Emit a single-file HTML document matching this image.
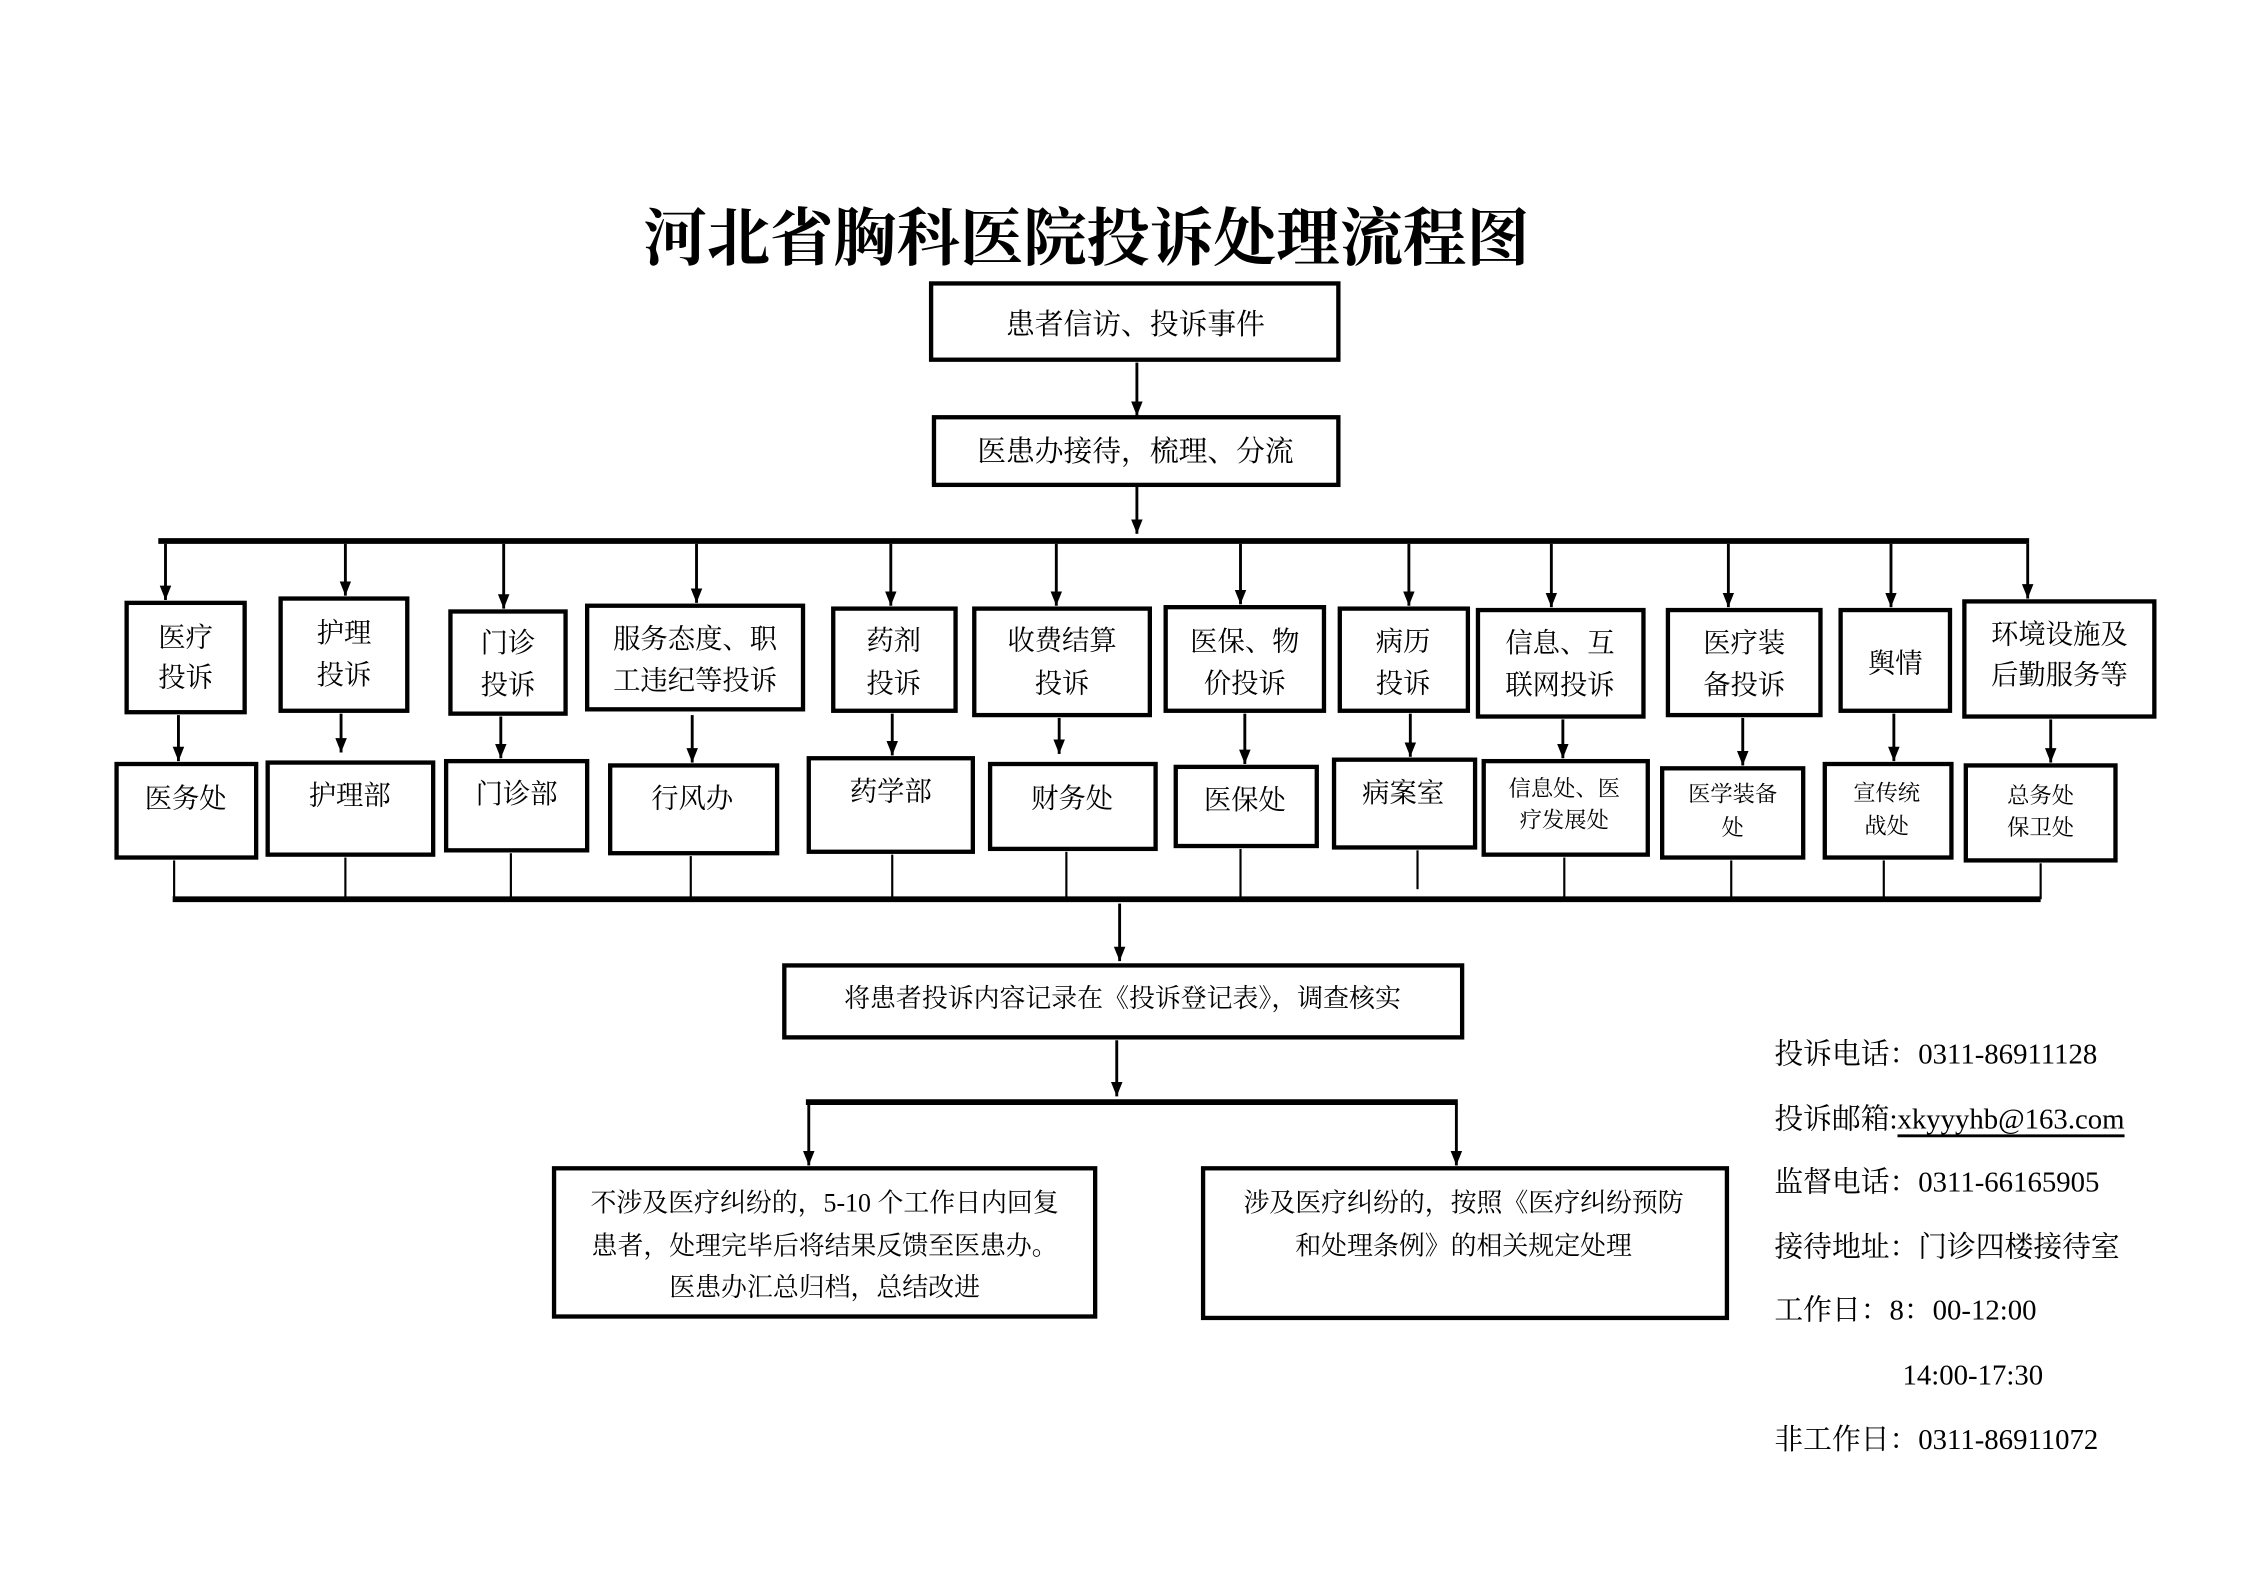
<!DOCTYPE html>
<html><head><meta charset="utf-8"><style>
html,body{margin:0;padding:0;background:#fff;}
svg{display:block;}
text{font-family:"Liberation Serif","Noto Serif CJK SC",serif;fill:#000;}
</style></head><body>
<svg width="2245" height="1587" viewBox="0 0 1560 1103" preserveAspectRatio="none" xmlns="http://www.w3.org/2000/svg">
<defs>
<marker id="d" viewBox="0 0 10 10" refX="10" refY="5" markerWidth="10" markerHeight="10" markerUnits="userSpaceOnUse" orient="auto"><path d="M0,1 L10,5 L0,9 Z" fill="#000"/></marker></defs>
<text x="755" y="166" font-size="44" font-weight="bold" text-anchor="middle" dominant-baseline="central" font-family="'Noto Serif CJK SC',serif">河北省胸科医院投诉处理流程图</text>
<g fill="none" stroke="#000" stroke-width="3">
<rect x="647" y="197" width="283" height="53"/>
<rect x="649" y="290" width="281" height="47"/>
<rect x="88" y="419" width="82" height="76"/>
<rect x="195" y="416" width="88" height="78"/>
<rect x="313" y="425" width="80" height="71"/>
<rect x="408" y="421" width="150" height="72"/>
<rect x="579" y="423" width="85" height="71"/>
<rect x="677" y="423" width="122" height="74"/>
<rect x="810" y="422" width="110" height="72"/>
<rect x="931" y="423" width="89" height="71"/>
<rect x="1027" y="424" width="115" height="74"/>
<rect x="1159" y="424" width="106" height="73"/>
<rect x="1279" y="424" width="76" height="70"/>
<rect x="1365" y="418" width="132" height="80"/>
<rect x="81" y="531" width="97" height="65"/>
<rect x="186" y="530" width="115" height="64"/>
<rect x="310" y="529" width="98" height="62"/>
<rect x="424" y="532" width="116" height="61"/>
<rect x="562" y="527" width="114" height="65"/>
<rect x="688" y="531" width="115" height="59"/>
<rect x="817" y="533" width="98" height="55"/>
<rect x="927" y="528" width="98" height="61"/>
<rect x="1031" y="529" width="114" height="65"/>
<rect x="1155" y="534" width="98" height="62"/>
<rect x="1268" y="531" width="88" height="65"/>
<rect x="1366" y="532" width="104" height="66"/>
<rect x="545" y="671" width="471" height="50"/>
<rect x="385" y="812" width="376" height="103"/>
<rect x="836" y="812" width="364" height="104"/>
<line x1="110" y1="376" x2="1410" y2="376" stroke-width="4"/>
<line x1="120" y1="625" x2="1418" y2="625" stroke-width="4"/>
<line x1="560" y1="766" x2="1013" y2="766" stroke-width="4"/>
</g>
<g stroke="#000" stroke-width="2" marker-end="url(#d)">
<line x1="790" y1="252" x2="790" y2="289"/>
<line x1="790" y1="338" x2="790" y2="371"/>
<line x1="115" y1="378" x2="115" y2="417"/>
<line x1="240" y1="378" x2="240" y2="414"/>
<line x1="350" y1="378" x2="350" y2="423"/>
<line x1="484" y1="378" x2="484" y2="419"/>
<line x1="619" y1="378" x2="619" y2="421"/>
<line x1="734" y1="378" x2="734" y2="421"/>
<line x1="862" y1="378" x2="862" y2="420"/>
<line x1="979" y1="378" x2="979" y2="421"/>
<line x1="1078" y1="378" x2="1078" y2="422"/>
<line x1="1201" y1="378" x2="1201" y2="422"/>
<line x1="1314" y1="378" x2="1314" y2="422"/>
<line x1="1409" y1="378" x2="1409" y2="416"/>
<line x1="124" y1="497" x2="124" y2="529"/>
<line x1="237" y1="496" x2="237" y2="523"/>
<line x1="348" y1="498" x2="348" y2="527"/>
<line x1="481" y1="497" x2="481" y2="530"/>
<line x1="620" y1="496" x2="620" y2="525"/>
<line x1="736" y1="499" x2="736" y2="524"/>
<line x1="865" y1="496" x2="865" y2="531"/>
<line x1="980" y1="496" x2="980" y2="526"/>
<line x1="1086" y1="500" x2="1086" y2="527"/>
<line x1="1211" y1="499" x2="1211" y2="532"/>
<line x1="1316" y1="496" x2="1316" y2="529"/>
<line x1="1425" y1="500" x2="1425" y2="530"/>
<line x1="778" y1="628" x2="778" y2="668"/>
<line x1="776" y1="723" x2="776" y2="762"/>
<line x1="562" y1="767" x2="562" y2="810"/>
<line x1="1012" y1="767" x2="1012" y2="810"/>
</g>
<g stroke="#000" stroke-width="1.5">
<line x1="121" y1="598" x2="121" y2="625"/><line x1="240" y1="596" x2="240" y2="625"/>
<line x1="355" y1="593" x2="355" y2="625"/><line x1="480" y1="595" x2="480" y2="625"/>
<line x1="620" y1="594" x2="620" y2="625"/><line x1="741" y1="592" x2="741" y2="625"/>
<line x1="862" y1="590" x2="862" y2="625"/><line x1="985" y1="591" x2="985" y2="618"/>
<line x1="1087" y1="596" x2="1087" y2="625"/><line x1="1203" y1="598" x2="1203" y2="625"/>
<line x1="1309" y1="598" x2="1309" y2="625"/><line x1="1418" y1="600" x2="1418" y2="625"/>
</g>
<g font-size="20" text-anchor="middle" dominant-baseline="central">
<text x="789" y="226">患者信访、投诉事件</text>
<text x="789" y="314">医患办接待，梳理、分流</text>
</g>
<g font-size="19" text-anchor="middle" dominant-baseline="central">
<text x="129" y="443">医疗</text><text x="129" y="471">投诉</text>
<text x="239" y="440">护理</text><text x="239" y="469">投诉</text>
<text x="353" y="447">门诊</text><text x="353" y="476">投诉</text>
<text x="483" y="444">服务态度、职</text><text x="483" y="473">工违纪等投诉</text>
<text x="621" y="445">药剂</text><text x="621" y="475">投诉</text>
<text x="738" y="445">收费结算</text><text x="738" y="475">投诉</text>
<text x="865" y="446">医保、物</text><text x="865" y="475">价投诉</text>
<text x="975" y="446">病历</text><text x="975" y="475">投诉</text>
<text x="1084" y="447">信息、互</text><text x="1084" y="476">联网投诉</text>
<text x="1212" y="447">医疗装</text><text x="1212" y="476">备投诉</text>
<text x="1317" y="461">舆情</text>
<text x="1431" y="441">环境设施及</text><text x="1431" y="469">后勤服务等</text>
<text x="129" y="555">医务处</text><text x="243" y="553">护理部</text><text x="359" y="552">门诊部</text>
<text x="481" y="555">行风办</text><text x="619" y="550">药学部</text><text x="745" y="555">财务处</text>
<text x="865" y="556">医保处</text><text x="975" y="551">病案室</text>
</g>
<g font-size="15.5" text-anchor="middle" dominant-baseline="central">
<text x="1087" y="548">信息处、医</text><text x="1087" y="570">疗发展处</text>
<text x="1204" y="552">医学装备</text><text x="1204" y="575">处</text>
<text x="1311" y="551">宣传统</text><text x="1311" y="574">战处</text>
<text x="1418" y="553">总务处</text><text x="1418" y="575">保卫处</text>
</g>
<g font-size="18" text-anchor="middle" dominant-baseline="central">
<text x="780" y="694">将患者投诉内容记录在《投诉登记表》，调查核实</text>
<text x="573" y="836">不涉及医疗纠纷的，5-10 个工作日内回复</text>
<text x="573" y="866">患者，处理完毕后将结果反馈至医患办。</text>
<text x="573" y="895">医患办汇总归档，总结改进</text>
<text x="1017" y="836">涉及医疗纠纷的，按照《医疗纠纷预防</text>
<text x="1017" y="866">和处理条例》的相关规定处理</text>
</g>
<g font-size="20" dominant-baseline="central">
<text x="1233" y="733">投诉电话：0311-86911128</text>
<text x="1233" y="778">投诉邮箱:<tspan text-decoration="underline">xkyyyhb@163.com</tspan></text>
<text x="1233" y="822">监督电话：0311-66165905</text>
<text x="1233" y="867">接待地址：门诊四楼接待室</text>
<text x="1233" y="911">工作日：8：00-12:00</text>
<text x="1322" y="956">14:00-17:30</text>
<text x="1233" y="1001">非工作日：0311-86911072</text>
</g>
</svg>
</body></html>
